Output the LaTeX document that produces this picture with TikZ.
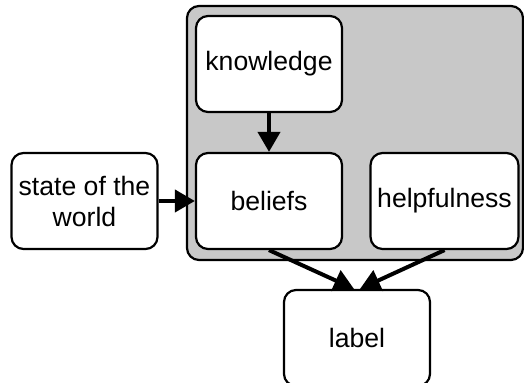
\documentclass[tikz,border=0pt]{standalone}
\usepackage{fontspec}
\setmainfont{Liberation Sans}
\usetikzlibrary{arrows.meta}
\definecolor{panelgray}{RGB}{200,200,200}
\tikzset{
  varbox/.style={draw,line width=1.1pt,fill=white,rounded corners=6pt,minimum width=73pt,
    minimum height=48pt,align=center,font=\fontsize{13.3}{15.5}\selectfont},
  link/.style={line width=2pt,-{Triangle[length=10pt,width=11pt]}}
}
\begin{document}
\begin{tikzpicture}[x=0.5pt,y=-0.5pt]
      \useasboundingbox (0,0) rectangle (524,383);
      \draw [line width=1.1pt,fill=panelgray,rounded corners=6pt] (187,6) rectangle (523,260);
      \node [varbox] (knowledge) at (269,64) {knowledge};
      \node [varbox] (beliefs) at (269,201) {beliefs};
      \node [varbox] (helpful) at (444.5,201) {helpfulness};
      \node [varbox] (state) at (84.5,201) {state of the\\world};
      \node [varbox] (label) at (357,338) {label};
      \draw [link] (knowledge) to (beliefs);
      \draw [link] (state) to (beliefs);
      \draw [link] (beliefs.south) to ([xshift=-1.5pt]label.north);
      \draw [link] (helpful.south) to ([xshift=1.5pt]label.north);
    \end{tikzpicture}
\end{document}
